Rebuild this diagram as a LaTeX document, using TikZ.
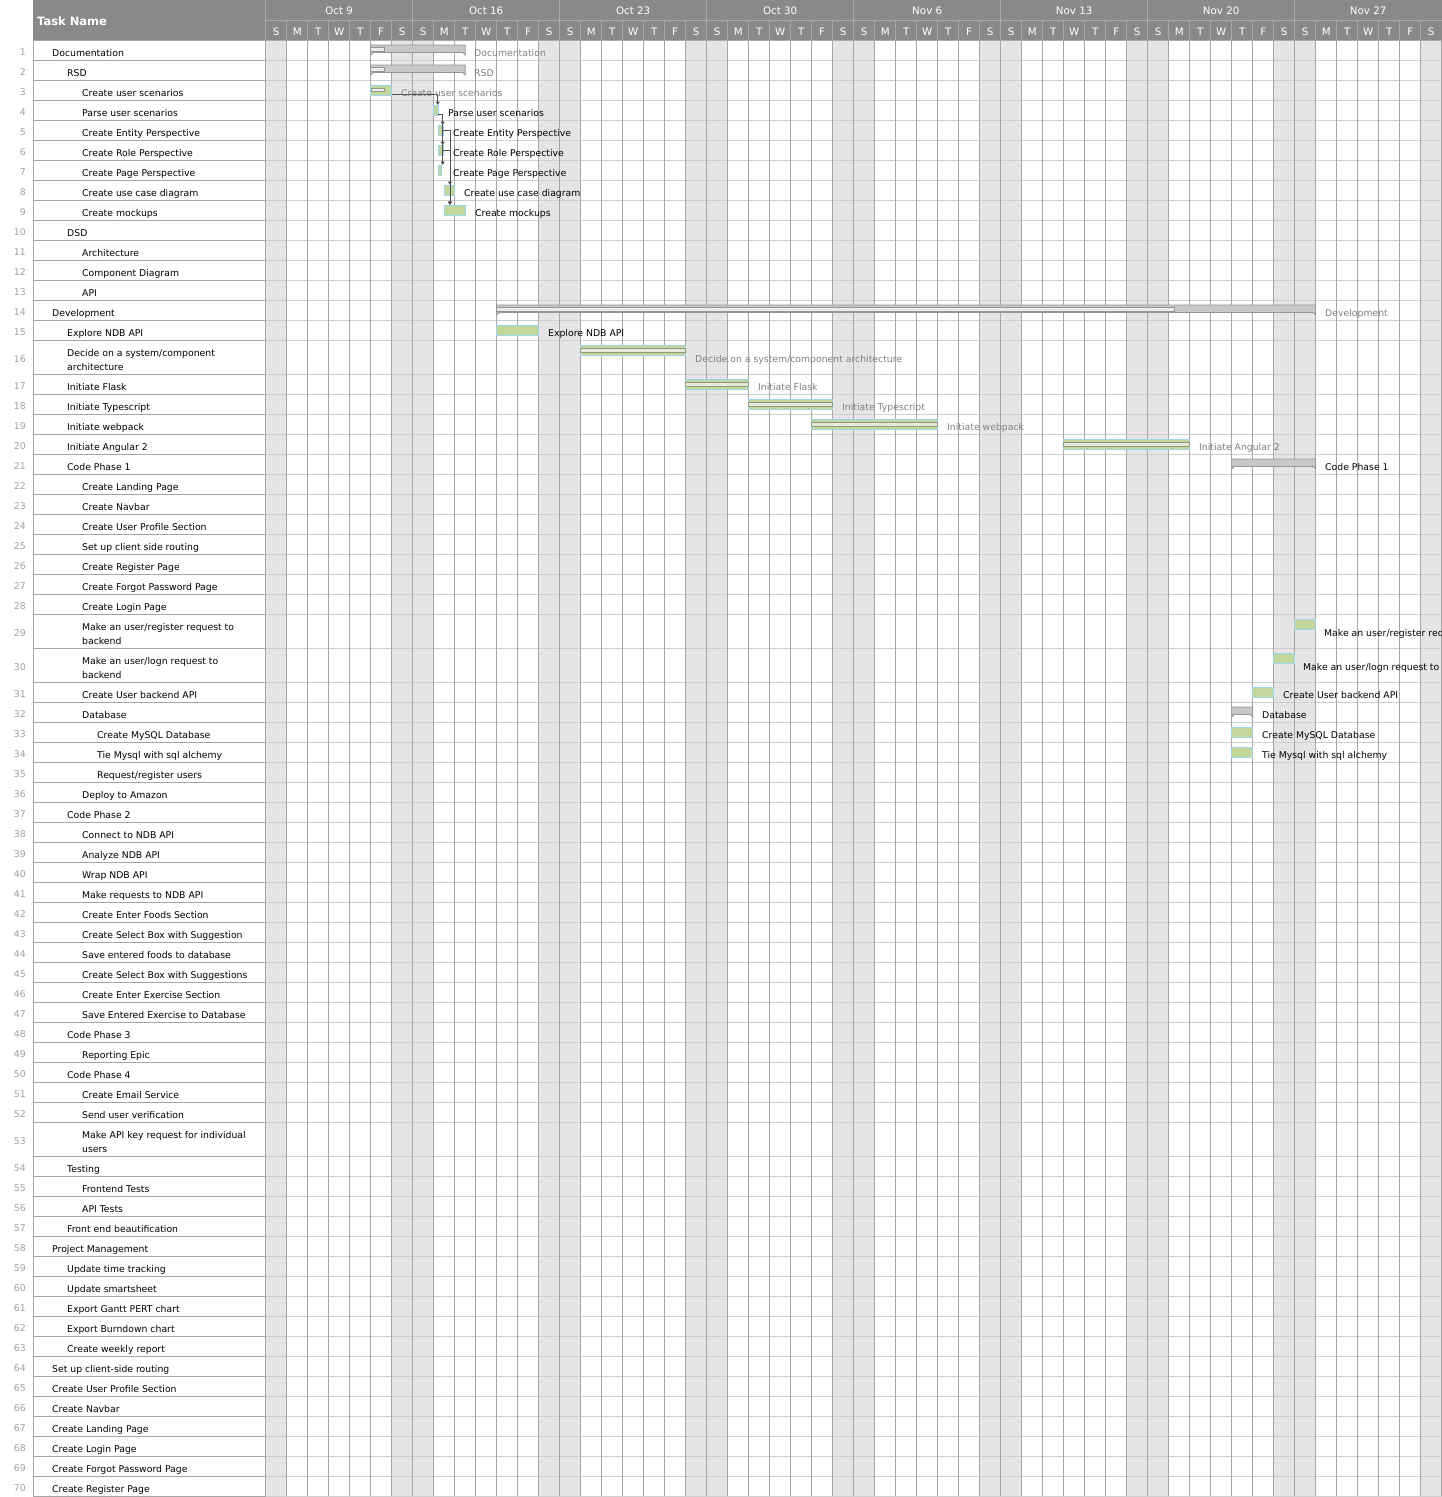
\documentclass[tikz,border=0pt]{standalone}
\usepackage{fontspec}
\setmainfont{DejaVu Sans}
\usetikzlibrary{arrows.meta,calc}

\definecolor{hdr}{HTML}{898989}
\definecolor{hdrline}{HTML}{A9A9A9}
\definecolor{wkend}{HTML}{E5E5E5}
\definecolor{vgrid}{HTML}{A6A6A6}
\definecolor{hgrid}{HTML}{CFCFCF}
\definecolor{colline}{HTML}{A6A6A6}
\definecolor{rownum}{HTML}{A0A0A0}
\definecolor{barfill}{HTML}{C4D79B}
\definecolor{barline}{HTML}{9DD6F0}
\definecolor{sumfill}{HTML}{C8C8C8}
\definecolor{sumline}{HTML}{959595}
\definecolor{sumprogfill}{HTML}{EBEBEB}
\definecolor{donefill}{HTML}{E6EAD9}
\definecolor{doneline}{HTML}{8E9A7E}
\definecolor{donetext}{HTML}{808080}
\definecolor{deparrow}{HTML}{505050}

\newcommand\taskfont{\fontsize{9.3}{14}\selectfont}
\newcommand\hdrfont{\fontsize{10.3}{12}\selectfont}

% summary bar: start x, end x, row top
\newcommand\ganttsum[3]{\draw[sumbar] (#1,#3+5) -- (#2,#3+5) -- (#2,#3+15) -- (#2-2.5,#3+12.5) -- (#1+2.5,#3+12.5) -- (#1,#3+15) -- cycle;}
% progress strip inside a summary bar: start x, end x, row top
\newcommand\ganttprog[3]{\draw[sumprog] (#1,#3+7) rectangle (#2,#3+11);}

\tikzset{
  tasktext/.style={anchor=west, inner sep=0pt, font=\taskfont, align=left},
  numtext/.style={anchor=base east, inner sep=0pt, font=\taskfont, text=rownum},
  taskbar/.style={draw=barline, fill=barfill, line width=0.9pt, inner sep=0pt,
                  outer sep=0pt, minimum height=10pt, anchor=north west},
  sumbar/.style={draw=sumline, fill=sumfill, line width=0.8pt},
  sumprog/.style={draw=sumline, fill=sumprogfill, line width=0.6pt},
  donestrip/.style={draw=doneline, fill=donefill, line width=0.6pt},
  barlabel/.style={anchor=base west, inner sep=0pt, font=\taskfont},
  donelabel/.style={barlabel, text=donetext},
  dep/.style={draw=deparrow, line width=0.8pt, -{Triangle[length=3.5pt,width=4pt]}},
  hdrtext/.style={inner sep=0pt, text=white, font=\hdrfont},
}

\begin{document}
\begin{tikzpicture}[x=1pt, y=-1pt]
\useasboundingbox (0,0) rectangle (1442,1497);
\clip (0,0) rectangle (1442,1497);
\fill[white] (0,0) rectangle (1442,1497);

% weekend columns (Sunday and Saturday of each week)
\foreach \w in {0,...,7}{
  \fill[wkend] ({265.7+147*\w},40) rectangle ++(21,1456);
  \fill[wkend] ({265.7+147*\w+126},40) rectangle ++(21,1456);
}

% task rows: number / centre y / height / level / name
\foreach \n/\c/\h/\l/\t in {
1/50/20/1/Documentation,
2/70/20/2/RSD,
3/90/20/3/Create user scenarios,
4/110/20/3/Parse user scenarios,
5/130/20/3/Create Entity Perspective,
6/150/20/3/Create Role Perspective,
7/170/20/3/Create Page Perspective,
8/190/20/3/Create use case diagram,
9/210/20/3/Create mockups,
10/230/20/2/DSD,
11/250/20/3/Architecture,
12/270/20/3/Component Diagram,
13/290/20/3/API,
14/310/20/1/Development,
15/330/20/2/Explore NDB API,
16/357/34/2/{Decide on a system/component\\architecture},
17/384/20/2/Initiate Flask,
18/404/20/2/Initiate Typescript,
19/424/20/2/Initiate webpack,
20/444/20/2/Initiate Angular 2,
21/464/20/2/Code Phase 1,
22/484/20/3/Create Landing Page,
23/504/20/3/Create Navbar,
24/524/20/3/Create User Profile Section,
25/544/20/3/Set up client side routing,
26/564/20/3/Create Register Page,
27/584/20/3/Create Forgot Password Page,
28/604/20/3/Create Login Page,
29/631/34/3/{Make an user/register request to\\backend},
30/665/34/3/{Make an user/logn request to\\backend},
31/692/20/3/Create User backend API,
32/712/20/3/Database,
33/732/20/4/Create MySQL Database,
34/752/20/4/Tie Mysql with sql alchemy,
35/772/20/4/{Request/register users},
36/792/20/3/Deploy to Amazon,
37/812/20/2/Code Phase 2,
38/832/20/3/Connect to NDB API,
39/852/20/3/Analyze NDB API,
40/872/20/3/Wrap NDB API,
41/892/20/3/Make requests to NDB API,
42/912/20/3/Create Enter Foods Section,
43/932/20/3/Create Select Box with Suggestion,
44/952/20/3/Save entered foods to database,
45/972/20/3/Create Select Box with Suggestions,
46/992/20/3/Create Enter Exercise Section,
47/1012/20/3/Save Entered Exercise to Database,
48/1032/20/2/Code Phase 3,
49/1052/20/3/Reporting Epic,
50/1072/20/2/Code Phase 4,
51/1092/20/3/Create Email Service,
52/1112/20/3/Send user verification,
53/1139/34/3/{Make API key request for individual\\users},
54/1166/20/2/Testing,
55/1186/20/3/Frontend Tests,
56/1206/20/3/API Tests,
57/1226/20/2/Front end beautification,
58/1246/20/1/Project Management,
59/1266/20/2/Update time tracking,
60/1286/20/2/Update smartsheet,
61/1306/20/2/Export Gantt PERT chart,
62/1326/20/2/Export Burndown chart,
63/1346/20/2/Create weekly report,
64/1366/20/1/Set up client-side routing,
65/1386/20/1/Create User Profile Section,
66/1406/20/1/Create Navbar,
67/1426/20/1/Create Landing Page,
68/1446/20/1/Create Login Page,
69/1466/20/1/Create Forgot Password Page,
70/1486/20/1/Create Register Page}{
  \ifnum\h=20
    \node[tasktext, anchor=base west] (t\n) at ({52+15*(\l-1)}, \c+6) {\t};
  \else
    \node[tasktext] (t\n) at ({52+15*(\l-1)}, \c+3) {\t};
  \fi
  \node[numtext] (n\n) at (26, \c+5.5) {\n};
  \draw[colline, line width=1pt] (33, \c+\h/2) -- (265.7, \c+\h/2);
  \draw[hgrid, line width=1pt] (265.7, \c+\h/2) -- (1442, \c+\h/2);
}

% day grid
\foreach \k in {0,...,56}{
  \draw[vgrid, line width=1pt] ({265.7+21*\k},40) -- ({265.7+21*\k},1496);
}
% task column borders
\draw[colline, line width=1pt] (33,40) -- (33,1496);
\draw[colline, line width=1pt] (265.7,40) -- (265.7,1496);

% summary bars
\ganttsum{370.7}{465.2}{40}
\ganttprog{370.7}{384}{40}
\ganttsum{370.7}{465.2}{60}
\ganttprog{370.7}{384}{60}
\ganttsum{496.7}{1315.7}{300}
\ganttprog{496.7}{1174.5}{300}
\ganttsum{1231.7}{1315.7}{454}
\ganttsum{1231.7}{1252.7}{702}

% task bars
\node[taskbar, minimum width=21pt]   (b3)  at (370.7,85)  {};
\node[taskbar, minimum width=5pt]    (b4)  at (433.3,105) {};
\node[taskbar, minimum width=5pt]    (b5)  at (438.3,125) {};
\node[taskbar, minimum width=5pt]    (b6)  at (438.3,145) {};
\node[taskbar, minimum width=3.4pt]  (b7)  at (438.3,165) {};
\node[taskbar, minimum width=10.4pt] (b8)  at (444.3,185) {};
\node[taskbar, minimum width=20.9pt] (b9)  at (444.3,205) {};
\node[taskbar, minimum width=42pt]   (b15) at (496.7,325) {};
\node[taskbar, minimum width=105pt]  (b16) at (580.7,345) {};
\node[taskbar, minimum width=63pt]   (b17) at (685.7,379) {};
\node[taskbar, minimum width=84pt]   (b18) at (748.7,399) {};
\node[taskbar, minimum width=126pt]  (b19) at (811.7,419) {};
\node[taskbar, minimum width=126pt]  (b20) at (1063.7,439) {};
\node[taskbar, minimum width=21pt]   (b29) at (1294.7,619) {};
\node[taskbar, minimum width=21pt]   (b30) at (1273.7,653) {};
\node[taskbar, minimum width=21pt]   (b31) at (1252.7,687) {};
\node[taskbar, minimum width=21pt]   (b33) at (1231.7,727) {};
\node[taskbar, minimum width=21pt]   (b34) at (1231.7,747) {};

% progress strips of finished tasks
\draw[sumprog] ([xshift=0.8pt,yshift=-3pt]b3.north west) rectangle ([xshift=13.3pt,yshift=-6.3pt]b3.north west);
\foreach \b in {16,...,20}{
  \draw[donestrip] ([yshift=-3.3pt]b\b.north west) rectangle ([yshift=2.6pt]b\b.south east);
}

% dependencies
\coordinate (m8) at (450,185);
\coordinate (m9) at (450,205);
\draw[dep] ([yshift=0.8pt]b3.south east) -| ([xshift=-0.6pt]b4.north east);
\draw[dep] ([yshift=1pt]b4.south east) -| ([xshift=-0.6pt]b5.north east);
\draw[dep] ([yshift=1pt]b4.south east) -| ([xshift=-0.6pt]b6.north east);
\draw[dep] ([yshift=1pt]b4.south east) -| ([xshift=1pt]b7.north east);
\draw[dep] (b5.east) -| (m8);
\draw[dep] (b5.east) -| (m9);
\draw[dep] (b6.east) -| (m9);

% bar labels (baseline 6 below the row centre)
\node[donelabel] (l1)  at (474,56)    {Documentation};
\node[donelabel] (l2)  at (474,76)    {RSD};
\node[donelabel] (l3)  at (401,96)    {Create user scenarios};
\node[barlabel]  (l4)  at (448,116)   {Parse user scenarios};
\node[barlabel]  (l5)  at (453,136)   {Create Entity Perspective};
\node[barlabel]  (l6)  at (453,156)   {Create Role Perspective};
\node[barlabel]  (l7)  at (453,176)   {Create Page Perspective};
\node[barlabel]  (l8)  at (464,196)   {Create use case diagram};
\node[barlabel]  (l9)  at (475,216)   {Create mockups};
\node[donelabel] (l14) at (1325,316)  {Development};
\node[barlabel]  (l15) at (548,336)   {Explore NDB API};
\node[donelabel] (l16) at (695,362.5) {Decide on a system/component architecture};
\node[donelabel] (l17) at (758,390)   {Initiate Flask};
\node[donelabel] (l18) at (842,410)   {Initiate Typescript};
\node[donelabel] (l19) at (947,430)   {Initiate webpack};
\node[donelabel] (l20) at (1199,450)  {Initiate Angular 2};
\node[barlabel]  (l21) at (1325,470)  {Code Phase 1};
\node[barlabel]  (l29) at (1324,636)  {Make an user/register request to backend};
\node[barlabel]  (l30) at (1303,670)  {Make an user/logn request to backend};
\node[barlabel]  (l31) at (1283,698)  {Create User backend API};
\node[barlabel]  (l32) at (1262,718)  {Database};
\node[barlabel]  (l33) at (1262,738)  {Create MySQL Database};
\node[barlabel]  (l34) at (1262,758)  {Tie Mysql with sql alchemy};

% header
\fill[hdr] (33,0) rectangle (1442,40);
\draw[hdrline, line width=1pt] (265.7,20) -- (1442,20);
\draw[hdrline, line width=1pt] (33,40) -- (1442,40);
\foreach \w in {0,...,7}{
  \draw[hdrline, line width=1pt] ({265.7+147*\w},0) -- ({265.7+147*\w},40);
}
\foreach \k in {0,...,55}{
  \draw[hdrline, line width=1pt] ({265.7+21*\k},20) -- ({265.7+21*\k},40);
}
\node[hdrtext, anchor=west, font=\fontsize{11.5}{13}\selectfont\bfseries] (th) at (37,21) {Task Name};
\foreach \w/\lab in {0/Oct 9,1/Oct 16,2/Oct 23,3/Oct 30,4/Nov 6,5/Nov 13,6/Nov 20,7/Nov 27}{
  \node[hdrtext] (wk\w) at ({265.7+147*\w+73.5},11) {\lab};
  \foreach \d/\dl in {0/S,1/M,2/T,3/W,4/T,5/F,6/S}{
    \node[hdrtext] (dy\w\d) at ({265.7+147*\w+21*\d+10.5},31.5) {\dl};
  }
}
\end{tikzpicture}
\end{document}
